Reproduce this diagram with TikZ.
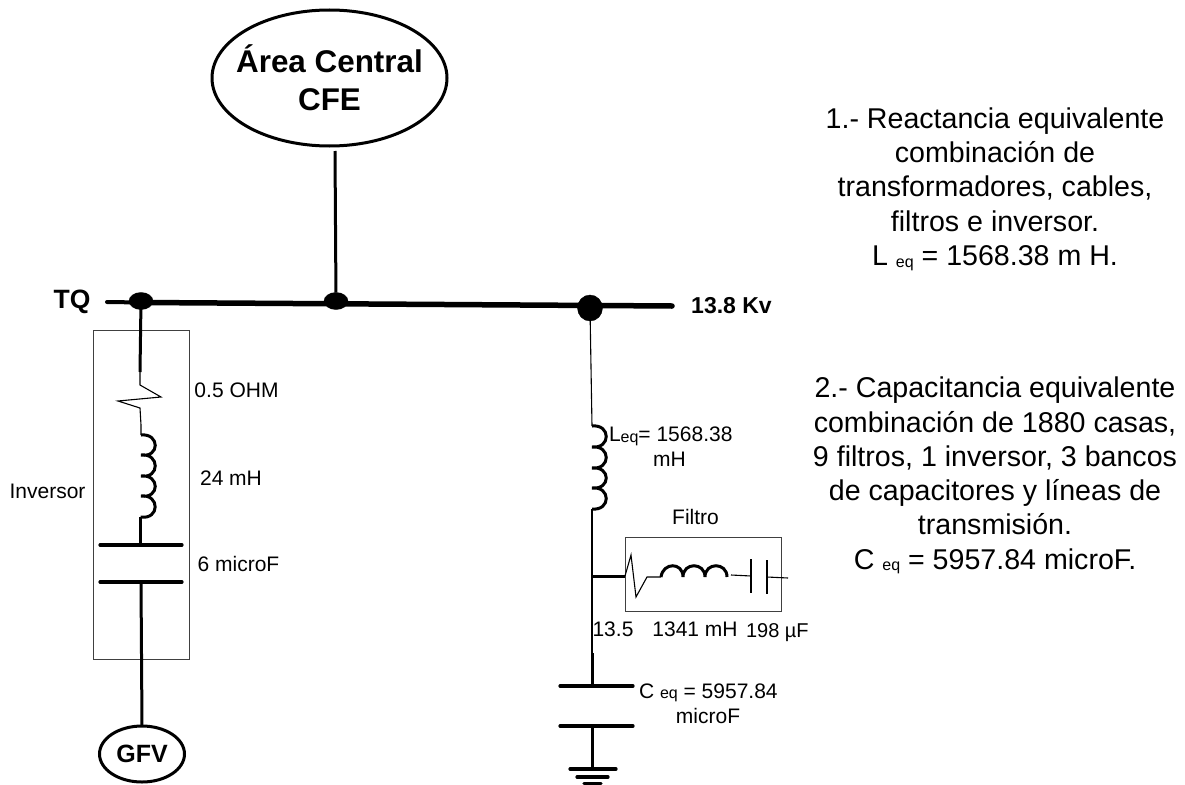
\documentclass[tikz,border=0pt]{standalone}
\usepackage{fontspec}
\usetikzlibrary{shapes.geometric}
\setmainfont{Liberation Sans}
\newcommand{\fs}[2]{\fontsize{#1}{#2}\selectfont}
\newcommand{\sbs}[2][1.5pt]{\raisebox{-#1}{\fontsize{16}{16}\selectfont #2}}
\tikzset{
  x=1pt,y=-1pt,
  lbl/.style={inner sep=0pt,outer sep=0pt,align=center,anchor=center},
  side/.style={lbl,font=\fs{28.6}{34.3}},
  small/.style={inner sep=0pt,outer sep=0pt,anchor=base,font=\fs{21}{24}},
  smallw/.style={small,anchor=base west},
  bold label/.style={inner sep=0pt,outer sep=0pt,anchor=base,font=\bfseries\fs{23}{26}},
  heavy/.style={line width=3pt},
  wire/.style={line width=1.1pt},
  buswire/.style={line width=5.5pt,line cap=round},
  plate/.style={line width=3.2pt,line cap=round},
  frame/.style={draw=black!75,line width=1pt},
  coil/.style={line width=3pt},
  joint/.style={ellipse,fill=black,draw=black,inner sep=0pt,outer sep=0pt},
  source/.style={ellipse,draw=black,line width=3pt,inner sep=0pt,outer sep=0pt}
}
\begin{document}
\begin{tikzpicture}
\useasboundingbox (0,0) rectangle (1185,784);
% frames
\draw[frame] (93,330) rectangle (189,659);
\draw[frame] (625,537) rectangle (781,611);
% sources and joints
\node[source,minimum width=235pt,minimum height=136pt] (cfe) at (329.5,78) {};
\node[lbl,font=\bfseries\fs{31.4}{38}] (cfetext) at (cfe.center) {Área Central\\CFE};
\node[source,minimum width=85pt,minimum height=56pt] (gfv) at (142,754) {};
\node[lbl,font=\bfseries\fs{25}{30}] (gfvtext) at (gfv.center) {GFV};
\coordinate (busL) at (107,302);
\coordinate (busM) at (142,302.5);
\coordinate (busR) at (672,306);
\coordinate (cfeb) at (335,151);
\node[joint,minimum width=24pt,minimum height=17pt] (j1) at (141,301) {};
\node[joint,minimum width=24pt,minimum height=17pt] (j2) at (336,301) {};
\node[joint,minimum width=25pt,minimum height=26pt] (j3) at (590,308) {};
\draw[line width=4pt,line cap=round] (busL) -- (busM);
\draw[buswire] (busM) -- (busR);
\draw[heavy] (cfeb) -- (j2);
% inverter branch
\coordinate (j1b) at (141,301);
\coordinate (r1a) at (140,372);
\coordinate (l1a) at (141,435);
\coordinate (l1b) at (140.5,517);
\coordinate (c1a) at (140.5,545);
\coordinate (c1b) at (141,582);
\draw[heavy] (j1b) -- (r1a);
\draw[wire] (r1a) -- (140,385) -- (161,397) -- (118,401) -- (140,408) -- (141,425) -- (l1a);
\draw[coil] (l1a) .. controls (160,433) and (160,458) .. (141,455)
  .. controls (160,453) and (160,479) .. (141,476)
  .. controls (160,474) and (160,499) .. (141,496)
  .. controls (160,494) and (160,520) .. (l1b);
\draw[heavy] (l1b) -- (c1a);
\draw[plate] (100,545) -- (182,545);
\draw[plate] (100,582) -- (182,582);
\draw[heavy] (c1b) -- (gfv.north);
% right branch
\coordinate (l2a) at (592,426);
\coordinate (l2b) at (592,509);
\coordinate (tap) at (593,576);
\coordinate (c2t) at (592,653);
\coordinate (c2a) at (592,686);
\coordinate (c2b) at (592.5,726);
\coordinate (gnd) at (592.5,769);
\draw[wire] (j3) -- (l2a);
\draw[coil] (l2a) .. controls (611,424) and (611,449) .. (592,447)
  .. controls (611,445) and (611,470) .. (592,468)
  .. controls (611,466) and (611,490) .. (592,488)
  .. controls (611,486) and (611,511) .. (l2b);
\draw[wire] (l2b) -- (c2t);
\draw[heavy] (c2t) -- (c2a);
\draw[plate] (560,686) -- (633,686);
\draw[plate] (560,726) -- (633,726);
\draw[heavy] (c2b) -- (gnd);
\draw[plate] (570,769) -- (616,769);
\draw[plate] (577,777) -- (608,777);
\draw[plate] (584,783.5) -- (601,783.5);
% filter
\coordinate (f1) at (625,576);
\coordinate (f2) at (661,577);
\coordinate (f3) at (727,577);
\draw[heavy] (tap) -- (f1);
\draw[wire] (f1) -- (631,555) -- (636,597) -- (647,577) -- (f2);
\draw[coil] (f2) .. controls (663,562) and (683,562) .. (683,577)
  .. controls (683,562) and (705,562) .. (705,577)
  .. controls (705,562) and (727,562) .. (f3);
\draw[wire] (731,575) -- (751,576);
\draw[line width=1.6pt] (751,559) -- (751,593);
\draw[line width=1.6pt] (767,560) -- (767,594);
\draw[wire] (767,577) -- (788,578);
% labels
\node[bold label,font=\bfseries\fs{26.5}{30}] (tq) at (72,308) {TQ};
\node[bold label] (kv) at (731.5,313) {13.8 Kv};
\node[small] (t1) at (236.5,397) {0.5 OHM};
\node[small] (t2) at (231,485) {24 mH};
\node[small] (t3) at (238.5,571) {6 microF};
\node[small] (t4) at (47.5,498) {Inversor};
\node[smallw] (t5) at (609,441) {L\sbs{eq}= 1568.38};
\node[small] (t6) at (669.5,466) {mH};
\node[small] (t7) at (695.5,524) {Filtro};
\node[small] (t8) at (613,636) {13.5};
\node[small] (t9) at (695,636) {1341 mH};
\node[smallw,font=\fs{20}{24}] (t10) at (746,637) {198 µF};
\node[smallw] (t11) at (639,698) {C \sbs[0pt]{eq} = 5957.84};
\node[small] (t12) at (708,723) {microF};
\node[side] (n1) at (995,189) {1.- Reactancia equivalente\\combinación de\\transformadores, cables,\\filtros e inversor.\\L \sbs{eq} = 1568.38 m H.};
\node[side] (n2) at (995,475.5) {2.- Capacitancia equivalente\\combinación de 1880 casas,\\9 filtros, 1 inversor, 3 bancos\\de capacitores y líneas de\\transmisión.\\C \sbs{eq} = 5957.84 microF.};
\end{tikzpicture}
\end{document}
